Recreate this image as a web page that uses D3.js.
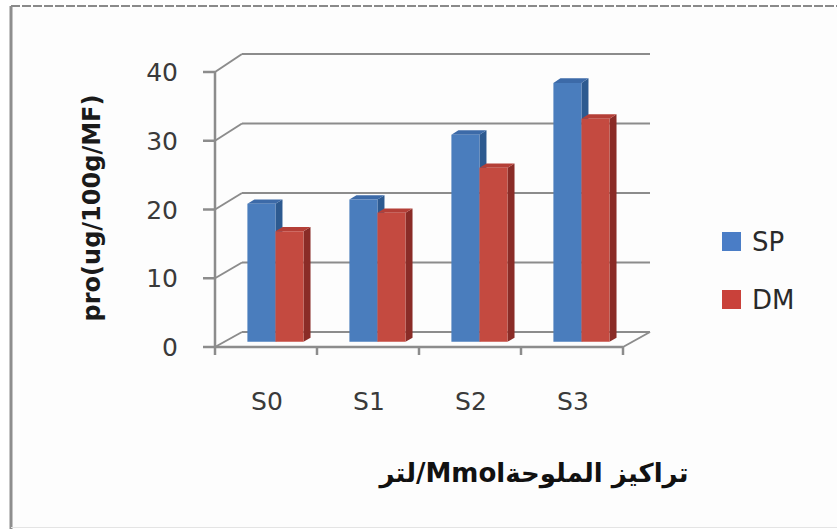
<!DOCTYPE html>
<html>
<head>
<meta charset="utf-8">
<script src="https://cdn.jsdelivr.net/npm/d3@7"></script>
<style>
  html, body { margin: 0; padding: 0; background: #ffffff; }
  svg { display: block; }
</style>
</head>
<body>
<svg id="chart" width="837" height="529"></svg>
<script>
// ---- data ----
const categories = ["S0", "S1", "S2", "S3"];
const seriesNames = ["SP", "DM"];
const spValues = [20, 20.6, 30, 37.5];
const dmValues = [16, 18.7, 25.2, 32.3];
const yTicks = [0, 10, 20, 30, 40];
const yTitle = "pro(ug/100g/MF)";
const xTitle = "تراكيز الملوحةMmol/لتر";

const seriesValues = [spValues, dmValues];
const colors = {
  SP: { front: "#4a7dbd", side: "#2d5a90", top: "#3c6aa8", legend: "#4a7dc6" },
  DM: { front: "#c44a40", side: "#8a2c27", top: "#b43f37", legend: "#c9413a" }
};

const svg = d3.select("#chart");

// background & frame
svg.append("rect").attr("x", 0).attr("y", 0).attr("width", 837).attr("height", 529).attr("fill", "#ffffff");
svg.append("rect").attr("x", 11).attr("y", 7).attr("width", 830).attr("height", 520)
  .attr("fill", "#fdfdfd").attr("stroke", "none");
svg.append("line").attr("x1", 11).attr("x2", 837).attr("y1", 6).attr("y2", 6)
  .attr("stroke", "#8a8a8a").attr("stroke-width", 2).attr("stroke-dasharray", "9,2");
svg.append("line").attr("x1", 11).attr("x2", 11).attr("y1", 6).attr("y2", 529)
  .attr("stroke", "#8e8e8e").attr("stroke-width", 3);
svg.append("line").attr("x1", 11).attr("x2", 837).attr("y1", 527.5).attr("y2", 527.5)
  .attr("stroke", "#e4e4e4").attr("stroke-width", 1);

// ---- 3D projection ----
const depthDX = 27;
const yFront = d3.scaleLinear().domain([0, 40]).range([347, 72]);
const yBack = d3.scaleLinear().domain([0, 40]).range([332, 54]);
const xFront = d3.scaleBand().domain(categories).range([215, 623]).padding(0);
const xSeries = d3.scaleBand().domain(seriesNames).range([0.225, 0.775]).padding(0);

function P(xf, v, z) {
  // xf: x on the front plane; v: value; z: depth 0..1
  return [xf + depthDX * z, yFront(v) + (yBack(v) - yFront(v)) * z];
}

const gridColor = "#8c8c8c";
const g = svg.append("g");

// back wall gridlines
const xL = xFront.range()[0], xR = xFront.range()[1];
yTicks.forEach(v => {
  const a = P(xL, v, 1), b = P(xR, v, 1);
  g.append("line").attr("x1", a[0]).attr("y1", a[1]).attr("x2", b[0]).attr("y2", b[1])
    .attr("stroke", gridColor).attr("stroke-width", 2);
  // side wall diagonals
  const c = P(xL, v, 0);
  g.append("line").attr("x1", c[0]).attr("y1", c[1]).attr("x2", a[0]).attr("y2", a[1])
    .attr("stroke", gridColor).attr("stroke-width", 2);
});
// floor right diagonal
{
  const a = P(xR, 0, 0), b = P(xR, 0, 1);
  g.append("line").attr("x1", a[0]).attr("y1", a[1]).attr("x2", b[0]).attr("y2", b[1])
    .attr("stroke", gridColor).attr("stroke-width", 2);
}

// bars
const z0 = 0.35, z1 = 0.61;
const bw = xFront.bandwidth();
const barsG = svg.append("g");
categories.forEach((cat, i) => {
  seriesNames.forEach((s, k) => {
    const v = seriesValues[k][i];
    const xa = xFront(cat) + bw * xSeries(s);
    const xb = xa + bw * xSeries.bandwidth();
    const fBL = P(xa, 0, z0), fBR = P(xb, 0, z0), fTL = P(xa, v, z0), fTR = P(xb, v, z0);
    const bBR = P(xb, 0, z1), bTL = P(xa, v, z1), bTR = P(xb, v, z1);
    const poly = pts => pts.map(p => p.join(",")).join(" ");
    // side face
    barsG.append("polygon").attr("points", poly([fBR, fTR, bTR, bBR]))
      .attr("fill", colors[s].side);
    // top face
    barsG.append("polygon").attr("points", poly([fTL, fTR, bTR, bTL]))
      .attr("fill", colors[s].top);
    // front face
    barsG.append("polygon").attr("points", poly([fBL, fBR, fTR, fTL]))
      .attr("fill", colors[s].front);
  });
});

// front axes (drawn over)
const axG = svg.append("g");
axG.append("line").attr("x1", xL).attr("x2", xL).attr("y1", yFront(0)).attr("y2", yFront(40))
  .attr("stroke", gridColor).attr("stroke-width", 2.5);
axG.append("line").attr("x1", xL).attr("x2", xR).attr("y1", yFront(0)).attr("y2", yFront(0))
  .attr("stroke", gridColor).attr("stroke-width", 2.5);
yTicks.forEach(v => {
  axG.append("line").attr("x1", xL - 12).attr("x2", xL).attr("y1", yFront(v)).attr("y2", yFront(v))
    .attr("stroke", gridColor).attr("stroke-width", 2.5);
  axG.append("text").attr("x", 178).attr("y", yFront(v)).attr("dy", "0.36em")
    .attr("text-anchor", "end").attr("font-family", "DejaVu Sans").attr("font-size", 25)
    .attr("fill", "#3a3a3a").text(v);
});
const xBounds = categories.map(c => xFront(c)).concat([xR]);
xBounds.forEach(x => {
  axG.append("line").attr("x1", x).attr("x2", x).attr("y1", yFront(0)).attr("y2", yFront(0) + 8)
    .attr("stroke", gridColor).attr("stroke-width", 2.5);
});
categories.forEach(c => {
  axG.append("text").attr("x", xFront(c) + bw / 2 + 1).attr("y", 410)
    .attr("text-anchor", "middle").attr("font-family", "DejaVu Sans").attr("font-size", 25)
    .attr("fill", "#3a3a3a").text(c);
});

// y axis title
svg.append("text").attr("transform", "translate(100,208) rotate(-90)")
  .attr("text-anchor", "middle").attr("font-family", "DejaVu Sans").attr("font-weight", "bold")
  .attr("font-size", 24).attr("fill", "#1a1a1a").text(yTitle);

// x axis title (Arabic, RTL)
svg.append("text").attr("x", 534).attr("y", 482)
  .attr("text-anchor", "middle").attr("direction", "rtl")
  .attr("font-family", "DejaVu Sans").attr("font-weight", "bold")
  .attr("font-size", 26).attr("fill", "#111").text(xTitle);

// legend
const legG = svg.append("g");
seriesNames.forEach((s, k) => {
  const y = 232 + k * 58;
  legG.append("rect").attr("x", 722).attr("y", y).attr("width", 19).attr("height", 19)
    .attr("fill", colors[s].legend);
  legG.append("text").attr("x", 752).attr("y", y + 10).attr("dy", "0.36em")
    .attr("font-family", "DejaVu Sans").attr("font-size", 26).attr("fill", "#2a2a2a").text(s);
});
</script>
</body>
</html>
